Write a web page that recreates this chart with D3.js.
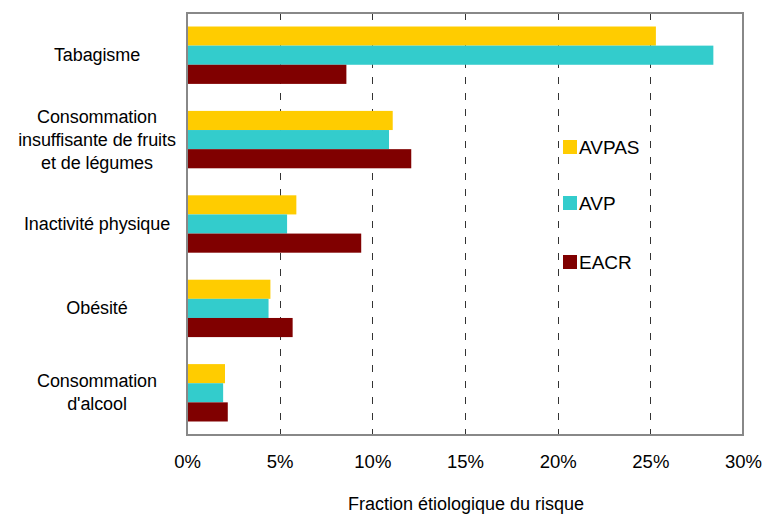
<!DOCTYPE html>
<html>
<head>
<meta charset="utf-8">
<script src="https://cdn.jsdelivr.net/npm/d3@7"></script>
<style>
  body { margin: 0; background: #fff; }
  text { font-family: "Liberation Sans", Arial, sans-serif; fill: #000; }
</style>
</head>
<body>
<svg id="chart"></svg>
<script>
const categories = [
  ["Tabagisme"],
  ["Consommation", "insuffisante de fruits", "et de légumes"],
  ["Inactivité physique"],
  ["Obésité"],
  ["Consommation", "d'alcool"],
];
const series = ["AVPAS", "AVP", "EACR"];
const avpas = [25.3, 11.1, 5.9, 4.5, 2.05];
const avp = [28.4, 10.9, 5.4, 4.4, 1.95];
const eacr = [8.6, 12.1, 9.4, 5.7, 2.2];
const ticks = [0, 5, 10, 15, 20, 25, 30];
const colors = ["#FFCC00", "#33CCCC", "#800000"];

const width = 765;
const height = 516;
const margin = { top: 13, right: 22, bottom: 81, left: 187 };
const values = [avpas, avp, eacr];

const svg = d3.select("#chart").attr("width", width).attr("height", height);

const x = d3.scaleLinear().domain([0, 30]).range([margin.left, width - margin.right]);
const y = d3
  .scaleBand()
  .domain(d3.range(categories.length))
  .range([margin.top, height - margin.bottom])
  .paddingInner(0.32)
  .paddingOuter(0.16);
const ySub = d3.scaleBand().domain(d3.range(series.length)).range([0, y.bandwidth()]);

// dashed gridlines
svg
  .append("g")
  .selectAll("line")
  .data(ticks.slice(1, -1))
  .join("line")
  .attr("x1", (d) => Math.round(x(d)) + 0.5)
  .attr("x2", (d) => Math.round(x(d)) + 0.5)
  .attr("y1", margin.top)
  .attr("y2", height - margin.bottom)
  .attr("stroke", "#333")
  .attr("stroke-width", 1)
  .attr("stroke-dasharray", "7,9");

// bars
svg
  .append("g")
  .selectAll("g")
  .data(categories)
  .join("g")
  .attr("transform", (d, i) => `translate(0,${y(i)})`)
  .selectAll("rect")
  .data((d, i) => values.map((v, s) => ({ s, v: v[i] })))
  .join("rect")
  .attr("x", x(0))
  .attr("y", (d) => ySub(d.s))
  .attr("width", (d) => x(d.v) - x(0))
  .attr("height", ySub.bandwidth())
  .attr("fill", (d) => colors[d.s]);

// plot frame
svg
  .append("rect")
  .attr("x", margin.left)
  .attr("y", margin.top)
  .attr("width", width - margin.left - margin.right)
  .attr("height", height - margin.top - margin.bottom)
  .attr("fill", "none")
  .attr("stroke", "#888")
  .attr("stroke-width", 2);

// x axis labels
const xAxis = d3
  .axisBottom(x)
  .tickValues(ticks)
  .tickSize(0)
  .tickPadding(20)
  .tickFormat((d) => d + "%");
svg
  .append("g")
  .attr("transform", `translate(0,${height - margin.bottom})`)
  .call(xAxis)
  .call((g) => g.select(".domain").remove())
  .call((g) => g.selectAll("text").style("font-size", "18.5px").style("font-family", "Liberation Sans, Arial, sans-serif"));

// category labels
const lineH = 23;
svg
  .append("g")
  .selectAll("text")
  .data(categories)
  .join("text")
  .attr("text-anchor", "middle")
  .attr("x", 97)
  .attr("y", (d, i) => y(i) + y.bandwidth() / 2 - ((d.length - 1) * lineH) / 2 + 6)
  .style("font-size", "18px")
  .style("letter-spacing", "-0.1px")
  .selectAll("tspan")
  .data((d) => d)
  .join("tspan")
  .attr("x", 97)
  .attr("dy", (d, i) => (i === 0 ? 0 : lineH))
  .text((d) => d);

// axis title
svg
  .append("text")
  .attr("x", 466)
  .attr("y", 510)
  .attr("text-anchor", "middle")
  .style("font-size", "18px")
  .text("Fraction étiologique du risque");

// legend
const legendY = [147, 203, 262];
const legend = svg
  .append("g")
  .selectAll("g")
  .data(series)
  .join("g")
  .attr("transform", (d, i) => `translate(563,${legendY[i]})`);
legend
  .append("rect")
  .attr("x", 0)
  .attr("y", -7)
  .attr("width", 14)
  .attr("height", 14)
  .attr("fill", (d, i) => colors[i]);
legend
  .append("text")
  .attr("x", 16)
  .attr("y", 7)
  .style("font-size", "19px")
  .text((d) => d);
</script>
</body>
</html>
